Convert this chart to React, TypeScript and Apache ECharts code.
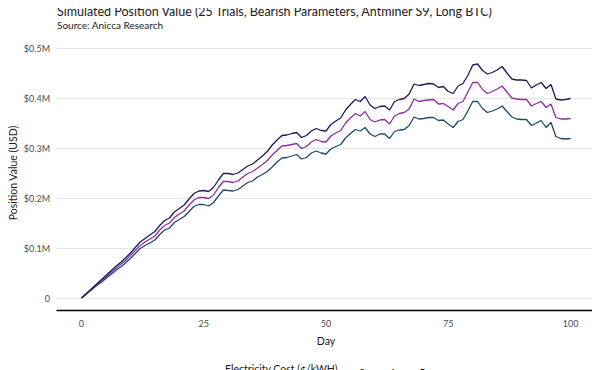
import React, { useEffect, useRef } from "react";
import * as echarts from "echarts";

// Day index 0..100
const days: number[] = Array.from({ length: 101 }, (_, i) => i);

// Position value in thousands of USD
const cost3: number[] = [
  0, 9, 18, 27, 36, 45, 54, 63, 71, 80,
  90, 101, 112, 119, 126, 133, 145, 155, 160, 172,
  179, 186, 198, 209, 214, 215, 213, 221, 236, 249,
  249, 247, 250, 257, 264, 268, 276, 284, 293, 306,
  316, 325, 326, 329, 331, 321, 325, 334, 339, 335,
  334, 347, 354, 360, 376, 387, 397, 393, 403, 386,
  379, 383, 384, 376, 393, 397, 399, 408, 428, 425,
  427, 429, 428, 421, 423, 413, 409, 424, 429, 445,
  466, 468, 455, 448, 451, 456, 463, 450, 438, 436,
  436, 435, 420, 426, 431, 419, 427, 398, 396, 397,
  399,
];
const cost4: number[] = [
  0, 8, 17, 25, 34, 42, 51, 59, 67, 75,
  85, 95, 105, 112, 118, 124, 136, 145, 150, 161,
  168, 174, 186, 196, 201, 201, 199, 206, 221, 233,
  233, 231, 234, 242, 249, 253, 260, 267, 275, 286,
  295, 304, 305, 307, 309, 299, 303, 312, 317, 313,
  312, 324, 330, 335, 350, 360, 369, 364, 373, 357,
  352, 356, 357, 348, 364, 369, 371, 378, 398, 393,
  395, 396, 397, 388, 389, 383, 376, 389, 393, 412,
  431, 431, 417, 409, 413, 418, 424, 412, 400, 398,
  397, 397, 384, 389, 393, 381, 388, 361, 358, 358,
  359,
];
const cost5: number[] = [
  0, 8, 16, 24, 31, 39, 47, 55, 62, 70,
  79, 89, 99, 105, 110, 116, 127, 136, 140, 151,
  157, 163, 173, 183, 187, 187, 184, 191, 204, 216,
  215, 214, 217, 224, 231, 234, 242, 247, 253, 262,
  272, 280, 281, 284, 287, 278, 281, 290, 294, 290,
  288, 298, 303, 307, 320, 329, 337, 334, 341, 328,
  323, 328, 328, 319, 333, 336, 337, 345, 362, 358,
  359, 361, 361, 355, 356, 348, 341, 353, 357, 374,
  393, 393, 379, 371, 374, 378, 384, 373, 362, 358,
  357, 357, 345, 350, 355, 341, 351, 323, 319, 318,
  319,
];

const seriesNames: string[] = ["3", "4", "5"];
const seriesColors: string[] = ["#1f1b58", "#8e2ea3", "#1f4a6c"];
const xTicks: number[] = [0, 25, 50, 75, 100];

const FONT = "Lato";

export default function App() {
  const ref = useRef<HTMLDivElement>(null);
  useEffect(() => {
    if (!ref.current) return;
    const chart = echarts.init(ref.current, undefined, { renderer: "svg" });
    const all = [cost3, cost4, cost5];
    chart.setOption({
      animation: false,
      backgroundColor: "#ffffff",
      textStyle: { fontFamily: FONT },
      title: {
        text: "Simulated Position Value (25 Trials, Bearish Parameters, Antminer S9, Long BTC)",
        subtext: "Source: Anicca Research",
        left: 57,
        top: 5,
        padding: 0,
        itemGap: 2,
        textStyle: { fontFamily: FONT, fontSize: 12.5, fontWeight: "normal", color: "#1a1a1a" },
        subtextStyle: { fontFamily: FONT, fontSize: 10, color: "#1a1a1a" },
      },
      grid: { left: 57, right: 5, top: 48, bottom: 72, containLabel: false, outerBoundsMode: "none" },
      xAxis: {
        type: "value",
        min: -5,
        max: 105,
        offset: 12,
        name: "Day",
        nameLocation: "middle",
        nameGap: 25,
        nameMoveOverlap: false,
        nameTextStyle: { fontFamily: FONT, fontSize: 10.5, color: "#1a1a1a" },
        axisLine: { show: true, onZero: false, lineStyle: { color: "#000000", width: 1.3 } },
        axisTick: { show: false },
        splitLine: { show: false },
        axisLabel: {
          customValues: xTicks,
          margin: 9,
          fontFamily: FONT,
          fontSize: 9,
          color: "#4d4d4d",
        },
      },
      yAxis: {
        type: "value",
        min: 0,
        max: 500000,
        interval: 100000,
        name: "Position Value (USD)",
        nameLocation: "middle",
        nameGap: 39,
        nameMoveOverlap: false,
        nameTextStyle: { fontFamily: FONT, fontSize: 10.5, color: "#1a1a1a" },
        axisLine: { show: false },
        axisTick: { show: false },
        splitLine: { show: true, lineStyle: { color: "#e6e6e6", width: 1 } },
        axisLabel: {
          margin: 7,
          fontFamily: FONT,
          fontSize: 9,
          color: "#4d4d4d",
          formatter: (v: number) => (v === 0 ? "0" : "$" + (v / 1e6).toFixed(1) + "M"),
        },
      },
      legend: {
        data: seriesNames,
        left: 339,
        top: 362,
        icon: "rect",
        itemWidth: 11,
        itemHeight: 2,
        itemGap: 9,
        textStyle: { fontFamily: FONT, fontSize: 10.5, color: "#1a1a1a", padding: [0, 0, 0, -1] },
      },
      graphic: [
        {
          type: "text",
          left: 225,
          top: 363,
          style: {
            text: "Electricity Cost (¢/kWH)",
            fontFamily: FONT,
            fontSize: 10.5,
            fill: "#1a1a1a",
          },
        },
      ],
      series: seriesNames.map((name, i) => ({
        name,
        type: "line",
        showSymbol: false,
        smooth: false,
        color: seriesColors[i],
        lineStyle: { width: 1.3, color: seriesColors[i] },
        data: days.map((d, j) => [d, all[i][j] * 1000]),
        z: 3 - i,
      })),
    });
    return () => chart.dispose();
  }, []);
  return <div ref={ref} style={{ width: 600, height: 370, marginLeft: -8, marginTop: -8 }} />;
}
